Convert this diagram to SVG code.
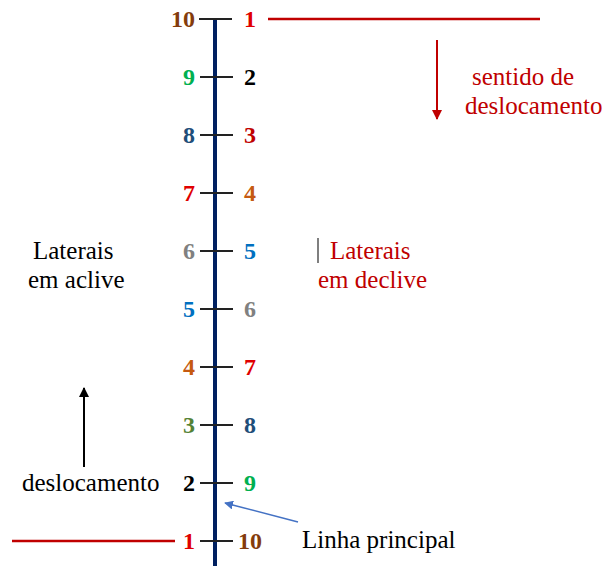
<svg xmlns="http://www.w3.org/2000/svg" width="603" height="566" viewBox="0 0 603 566">
<defs>
<style>
text{font-family:"Liberation Serif","Times New Roman",Times,"DejaVu Serif",serif}
.n{font-weight:bold;font-size:24px}
.l{text-anchor:end}
.t{font-size:25px}
.tick{stroke:#222;stroke-width:2}
</style>
<marker id="ar" viewBox="0 0 10 10" refX="9" refY="5" markerWidth="5" markerHeight="5" orient="auto"><path d="M0,0L10,5L0,10z" fill="#C00000"/></marker>
<marker id="ab" viewBox="0 0 10 10" refX="9" refY="5" markerWidth="5" markerHeight="5" orient="auto"><path d="M0,0L10,5L0,10z" fill="#000"/></marker>
<marker id="abl" viewBox="0 0 10 10" refX="9" refY="5" markerWidth="6" markerHeight="6" orient="auto"><path d="M0,0L10,5L0,10z" fill="#4472C4"/></marker>
</defs>
<rect width="603" height="566" fill="#fff"/>
<g id="connectors">
<line x1="215" y1="20" x2="215" y2="566" stroke="#002060" stroke-width="4"/>
<g class="tick">
<line x1="199" y1="19" x2="232" y2="19"/>
<line x1="200" y1="77" x2="233" y2="77"/>
<line x1="200" y1="135" x2="233" y2="135"/>
<line x1="200" y1="193" x2="233" y2="193"/>
<line x1="200" y1="251" x2="233" y2="251"/>
<line x1="200" y1="309" x2="233" y2="309"/>
<line x1="200" y1="367" x2="233" y2="367"/>
<line x1="200" y1="425" x2="233" y2="425"/>
<line x1="200" y1="483" x2="233" y2="483"/>
<line x1="200" y1="541" x2="233" y2="541"/>
</g>
<line x1="268" y1="19" x2="540" y2="19" stroke="#C00000" stroke-width="2.5"/>
<line x1="12" y1="541" x2="175" y2="541" stroke="#C00000" stroke-width="2.5"/>
<line x1="437" y1="40" x2="437" y2="119" stroke="#C00000" stroke-width="2" marker-end="url(#ar)"/>
<line x1="84" y1="467" x2="84" y2="388" stroke="#000" stroke-width="2" marker-end="url(#ab)"/>
<line x1="298" y1="522" x2="225" y2="503" stroke="#4472C4" stroke-width="1.5" marker-end="url(#abl)"/>
<line x1="318" y1="238" x2="318" y2="263" stroke="#555" stroke-width="1.5"/>
</g>
<g id="left-labels" class="n l">
<text x="195" y="27" fill="#843C0C">10</text>
<text x="195" y="85" fill="#00B050">9</text>
<text x="195" y="143" fill="#1F4E79">8</text>
<text x="195" y="201" fill="#E00000">7</text>
<text x="195" y="259" fill="#808080">6</text>
<text x="195" y="317" fill="#0070C0">5</text>
<text x="195" y="375" fill="#C55A11">4</text>
<text x="195" y="433" fill="#548235">3</text>
<text x="195" y="491" fill="#000">2</text>
<text x="195" y="549" fill="#E00000">1</text>
</g>
<g id="right-labels" class="n">
<text x="244" y="27" fill="#E00000">1</text>
<text x="244" y="85" fill="#000">2</text>
<text x="244" y="143" fill="#C00000">3</text>
<text x="244" y="201" fill="#C55A11">4</text>
<text x="244" y="259" fill="#0070C0">5</text>
<text x="244" y="317" fill="#808080">6</text>
<text x="244" y="375" fill="#E00000">7</text>
<text x="244" y="433" fill="#1F4E79">8</text>
<text x="244" y="491" fill="#00B050">9</text>
<text x="238" y="549" fill="#843C0C">10</text>
</g>
<g id="sentido" class="t" fill="#C00000">
<text x="472" y="85">sentido de</text>
<text x="465" y="114">deslocamento</text>
</g>
<g id="aclive" class="t" fill="#000">
<text x="33" y="259">Laterais</text>
<text x="28" y="288">em aclive</text>
</g>
<g id="declive" class="t" fill="#C00000">
<text x="330" y="259">Laterais</text>
<text x="318" y="288">em declive</text>
</g>
<g id="desloc" class="t" fill="#000">
<text x="22" y="491">deslocamento</text>
</g>
<g id="linha" class="t" fill="#000">
<text x="302" y="548">Linha principal</text>
</g>
</svg>
